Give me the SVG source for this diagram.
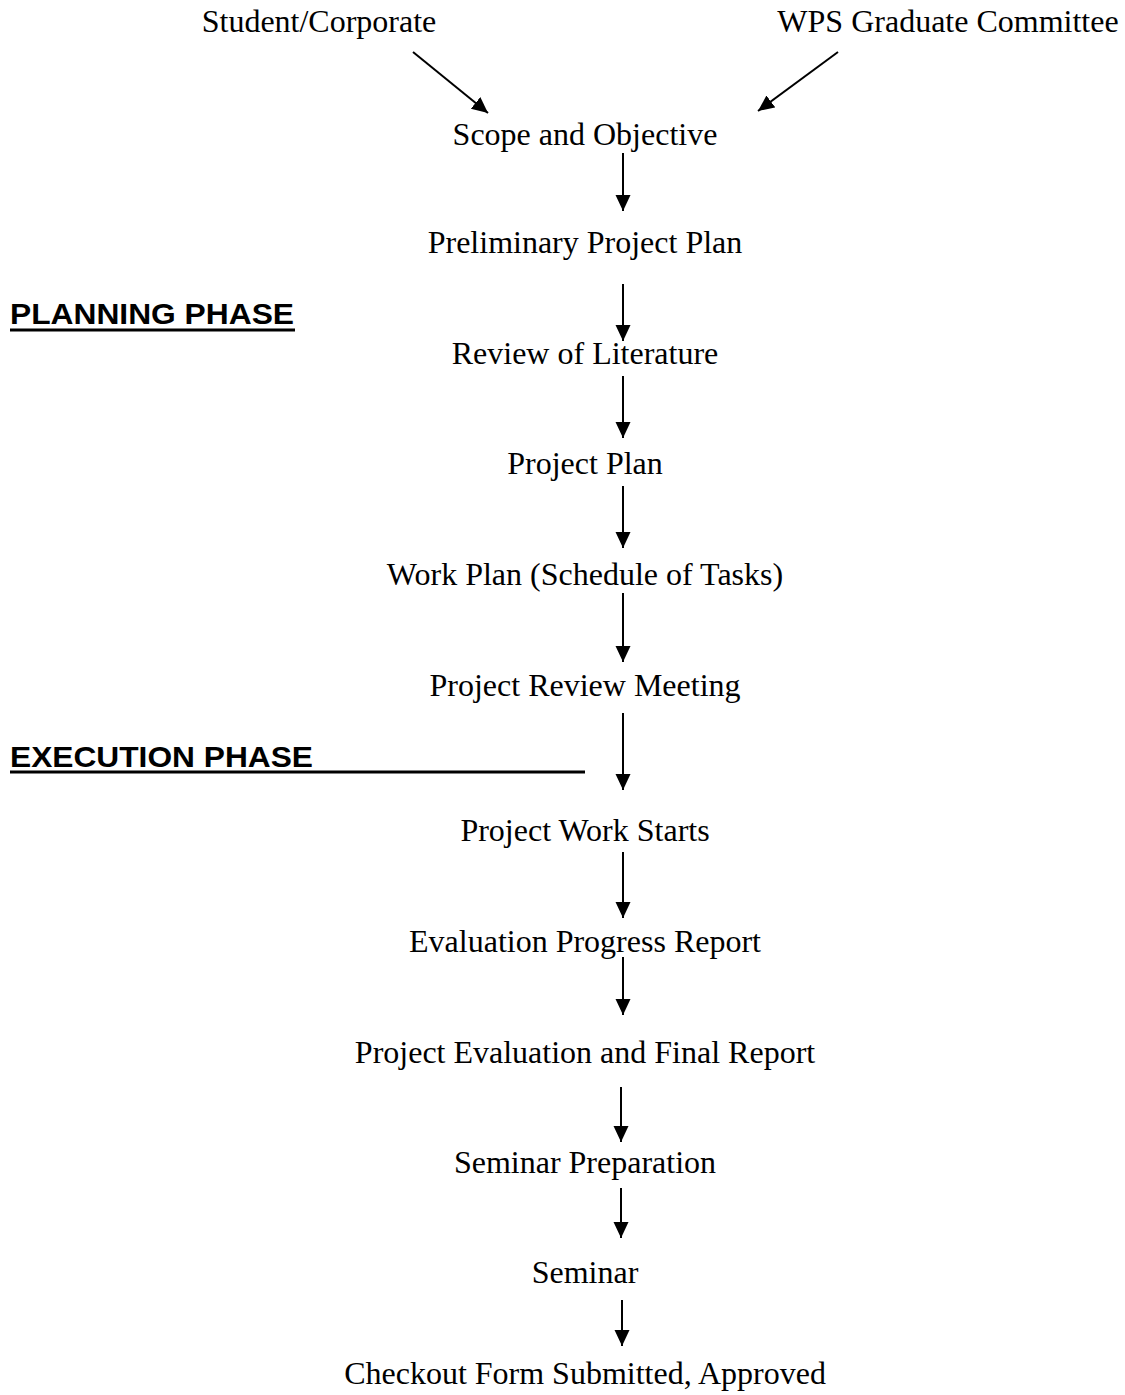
<svg xmlns="http://www.w3.org/2000/svg" width="1125" height="1395" viewBox="0 0 1125 1395">
<style>
.n{font-family:"Liberation Serif","Times New Roman",serif;font-size:32px;fill:#000;text-anchor:middle}
.h{font-family:"Liberation Sans",Arial,sans-serif;font-size:30px;font-weight:bold;fill:#000}
.c{stroke:#000;stroke-width:2;fill:none}
</style>
<defs>
<marker id="ah" markerUnits="userSpaceOnUse" markerWidth="16" markerHeight="18" refX="16" refY="7.5" orient="auto">
<path d="M0,0 L16,7.5 L0,15 Z" fill="#000"/>
</marker>
</defs>
<rect width="1125" height="1395" fill="#fff"/>
<g id="headers">
<g id="planning-phase"><text class="h" x="10" y="324" textLength="284" lengthAdjust="spacingAndGlyphs">PLANNING PHASE</text><rect x="10" y="328.5" width="285" height="3"/></g>
<g id="execution-phase"><text class="h" x="10" y="767" textLength="303" lengthAdjust="spacingAndGlyphs">EXECUTION PHASE</text><rect x="10" y="770.5" width="575" height="3"/></g>
</g>
<g id="n-student"><text class="n" x="319" y="32">Student/Corporate</text></g>
<g id="n-wps"><text class="n" x="948" y="32">WPS Graduate Committee</text></g>
<g id="n-scope"><text class="n" x="585" y="145">Scope and Objective</text></g>
<g id="n-prelim"><text class="n" x="585" y="253">Preliminary Project Plan</text></g>
<g id="n-review"><text class="n" x="585" y="364">Review of Literature</text></g>
<g id="n-plan"><text class="n" x="585" y="474">Project Plan</text></g>
<g id="n-work"><text class="n" x="585" y="585">Work Plan (Schedule of Tasks)</text></g>
<g id="n-meeting"><text class="n" x="585" y="696">Project Review Meeting</text></g>
<g id="n-starts"><text class="n" x="585" y="841">Project Work Starts</text></g>
<g id="n-progress"><text class="n" x="585" y="952">Evaluation Progress Report</text></g>
<g id="n-final"><text class="n" x="585" y="1063">Project Evaluation and Final Report</text></g>
<g id="n-semprep"><text class="n" x="585" y="1173">Seminar Preparation</text></g>
<g id="n-seminar"><text class="n" x="585" y="1283">Seminar</text></g>
<g id="n-checkout"><text class="n" x="585" y="1384">Checkout Form Submitted, Approved</text></g>
<g id="connectors">
<line class="c" x1="413" y1="52" x2="488" y2="113" marker-end="url(#ah)"/>
<line class="c" x1="838" y1="52" x2="758" y2="111" marker-end="url(#ah)"/>
<line class="c" x1="623" y1="153" x2="623" y2="211" marker-end="url(#ah)"/>
<line class="c" x1="623" y1="284" x2="623" y2="341" marker-end="url(#ah)"/>
<line class="c" x1="623" y1="376" x2="623" y2="438" marker-end="url(#ah)"/>
<line class="c" x1="623" y1="486" x2="623" y2="548" marker-end="url(#ah)"/>
<line class="c" x1="623" y1="593" x2="623" y2="662" marker-end="url(#ah)"/>
<line class="c" x1="623" y1="713" x2="623" y2="790" marker-end="url(#ah)"/>
<line class="c" x1="623" y1="852" x2="623" y2="918" marker-end="url(#ah)"/>
<line class="c" x1="623" y1="957" x2="623" y2="1015" marker-end="url(#ah)"/>
<line class="c" x1="621" y1="1087" x2="621" y2="1142" marker-end="url(#ah)"/>
<line class="c" x1="621" y1="1188" x2="621" y2="1238" marker-end="url(#ah)"/>
<line class="c" x1="622" y1="1300" x2="622" y2="1346" marker-end="url(#ah)"/>
</g>
</svg>
